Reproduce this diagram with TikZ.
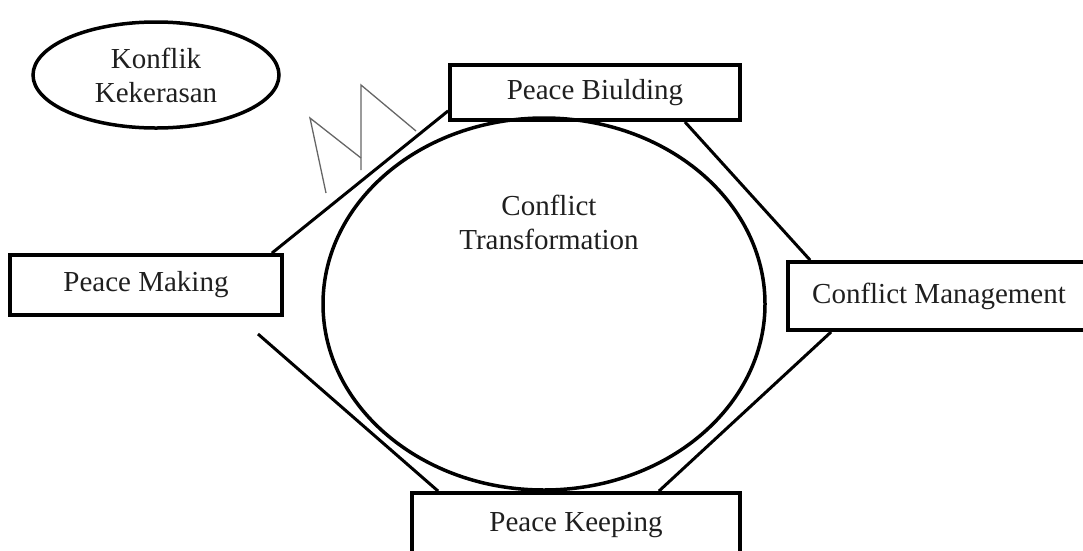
\documentclass[tikz,border=0pt]{standalone}
\usepackage{fontspec}
\setmainfont{Liberation Serif}
\usetikzlibrary{shapes.geometric}
\begin{document}
\begin{tikzpicture}[x=1pt,y=-1pt,
  lbl/.style={font=\fontsize{29}{34}\selectfont, text=black!88},
  boxnode/.style={draw, line width=3.8pt, inner sep=0pt, lbl},
  conn/.style={line width=3pt},
  bolt/.style={line width=1.3pt, draw=black!60}]
\useasboundingbox (0,0) rectangle (1083,550);
% big circle
\node[ellipse, draw, line width=3.5pt, minimum width=442pt, minimum height=372pt, inner sep=0pt] (ct) at (544,304) {};
\node[lbl, align=center] (ctt) at (549,222) {Conflict\\Transformation};
% ellipse
\node[ellipse, draw, line width=3.5pt, minimum width=246pt, minimum height=106pt, inner sep=0pt, lbl, align=center] (kk) at (156,75) {Konflik\\Kekerasan};
% boxes
\node[boxnode, minimum width=272pt, minimum height=60pt] (pm) at (146,285) {Peace Making};
\node[boxnode, minimum width=290pt, minimum height=55pt] (pb) at (595,92.5) {Peace Biulding};
\node[boxnode, minimum width=312pt, minimum height=68pt] (cm) at (944,296) {\hspace{-10pt}\raisebox{2pt}{Conflict Management}};
\node[boxnode, minimum width=328pt, minimum height=64pt] (pk) at (576,525) {\raisebox{6pt}{Peace Keeping}};
% connectors
\draw[conn] ([xshift=-12pt]pm.north east) -- ([yshift=11pt]pb.south west);
\draw[conn] ([xshift=-57pt]pb.south east) -- ([xshift=24pt]cm.north west);
\draw[conn] ([xshift=45pt]cm.south west) -- ([xshift=-83pt]pk.north east);
\coordinate (pmfree) at (258,334);
\draw[conn] (pmfree) -- ([xshift=28pt]pk.north west);
% lightning bolt
\coordinate (z1) at (326,193);
\coordinate (z2) at (310,118);
\coordinate (z3) at (361,158);
\coordinate (z4) at (361,170);
\coordinate (z5) at (361,85);
\coordinate (z6) at (416,131);
\draw[bolt] (z1) -- (z2) -- (z3);
\draw[bolt] (z4) -- (z5) -- (z6);
\end{tikzpicture}
\end{document}
